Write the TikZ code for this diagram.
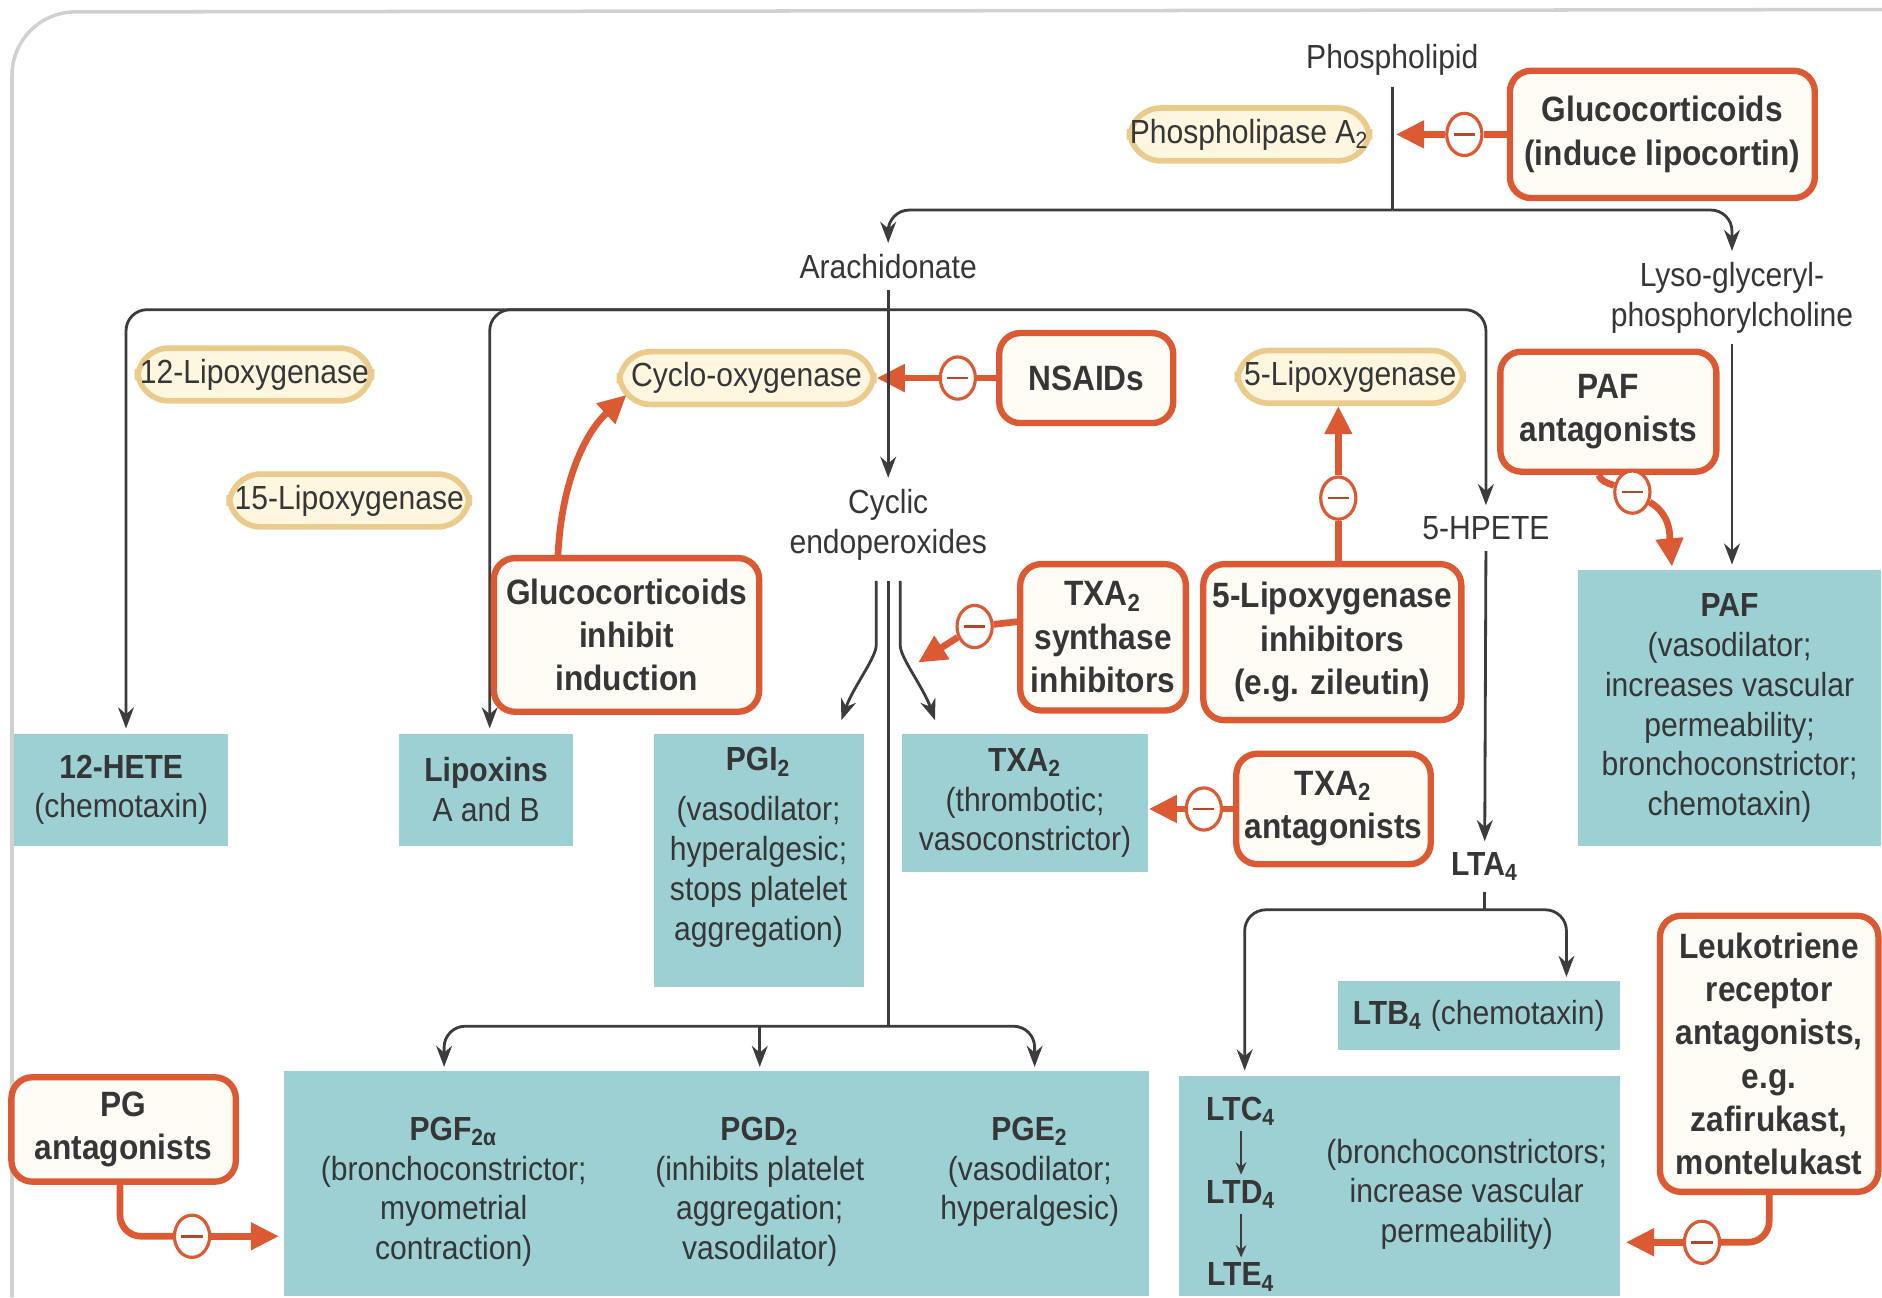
\documentclass[tikz,border=0pt]{standalone}
\usepackage{fontspec}
\setmainfont{Liberation Sans}[FakeStretch=0.9]
\usetikzlibrary{arrows.meta,shapes.geometric,calc}
\definecolor{txt}{HTML}{363636}
\definecolor{redb}{HTML}{DC5A33}
\definecolor{tealf}{HTML}{9DD0D3}
\definecolor{creamf}{HTML}{FFF6E0}
\definecolor{creamd}{HTML}{EACB8C}
\definecolor{rfill}{HTML}{FFFCF6}
\definecolor{lined}{HTML}{3C3C3C}
\tikzset{
  every node/.style={text=txt, font=\fontsize{9.5}{11.3}\selectfont, inner sep=0pt},
  sz/.style 2 args={minimum width=#1*0.012cm, minimum height=#2*0.012cm},
  enz/.style={draw=creamd, line width=1.6pt, fill=creamf, rounded corners=9pt},
  rbox/.style={draw=redb, line width=1.8pt, fill=rfill, rounded corners=6pt, align=center, font=\fontsize{10}{12.3}\selectfont\bfseries},
  tbox/.style={fill=tealf, align=center},
  lbl/.style={align=center, inner sep=3pt},
  flow/.style={draw=lined, line width=0.8pt, -{Stealth[length=6pt,width=4.5pt]}, rounded corners=6pt},
  flowl/.style={draw=lined, line width=0.8pt, rounded corners=6pt},
  small/.style={draw=lined, line width=0.6pt, -{Stealth[length=3.5pt,width=3pt]}},
  inh/.style={draw=redb, line width=1.9pt, rounded corners=6pt, -{Triangle[length=8pt,width=7.5pt]}},
  inhl/.style={draw=redb, line width=1.9pt, rounded corners=6pt},
  minus/.style={ellipse, draw=redb, line width=0.9pt, fill=white, minimum width=10pt, minimum height=12pt,
    path picture={\draw[redb!80!black,line width=0.7pt] ($(path picture bounding box.center)+(-3pt,0)$) -- ($(path picture bounding box.center)+(3pt,0)$);}},
}
\begin{document}
\begin{tikzpicture}[x=0.012cm,y=-0.012cm]
\useasboundingbox (0,0) rectangle (1568,1081);
\draw[black!18, line width=1pt, rounded corners=18pt] (10,1081) -- (10,10) -- (1568,8);

% ---------- top ----------
\node[lbl] (phl) at (1160,50) {Phospholipid};
\node[enz, sz={200}{44}] (pla2) at (1041,112) {Phospholipase A\textsubscript{2}};
\node[rbox, sz={254}{106}] (gc1) at (1385,112) {Glucocorticoids\\(induce lipocortin)};
\node[minus] (m1) at (1220,112) {};
\coordinate (j1) at (1160,175);
\coordinate (plhit) at (1163,112);
\draw[flowl] (phl.south) -- (j1);
\draw[inhl] (gc1.west) -- (m1);
\draw[inh] (m1) -- (plhit);

\node[lbl] (ara) at (740,222) {Arachidonate};
\node[lbl] (lyso) at (1443,248) {Lyso-glyceryl-\\phosphorylcholine};
\draw[flow] (j1) -| (ara.north);
\draw[flow] (j1) -| (lyso.north);

% ---------- enzymes ----------
\node[enz, sz={195}{44}] (lox12) at (212,312) {12-Lipoxygenase};
\node[enz, sz={200}{44}] (lox15) at (291,417) {15-Lipoxygenase};
\node[enz, sz={212}{44}] (cox) at (622,315) {Cyclo-oxygenase};
\node[enz, sz={188}{44}] (lox5) at (1125,314) {5-Lipoxygenase};

\node[rbox, sz={145}{75}] (nsaid) at (905,315) {NSAIDs};
\node[minus] (m2) at (798,315) {};
\draw[inhl] (nsaid.west) -- (m2);
\draw[inh] (m2) -- (cox.east);

\node[lbl] (cyc) at (740,437) {Cyclic\\endoperoxides};
\draw[flow] (ara.south) -- (cyc.north);

\node[lbl] (hpete) at (1238,440) {5-HPETE};

% ---------- product boxes ----------
\node[tbox, sz={178}{93}] (hete) at (101,658) {\textbf{12-HETE}\\(chemotaxin)};
\node[tbox, sz={145}{93}] (lipox) at (405,658) {\textbf{Lipoxins}\\A and B};
\node[tbox, sz={175}{211}] (pgi) at (632,717) {};
\node[align=center, anchor=north] (pgit) at (632,622) {\textbf{PGI\textsubscript{2}}\\[3pt](vasodilator;\\hyperalgesic;\\stops platelet\\aggregation)};
\node[tbox, sz={205}{115}] (txa) at (854,669) {\textbf{TXA\textsubscript{2}}\\(thrombotic;\\vasoconstrictor)};
\node[tbox, sz={253}{230}] (paf) at (1441,590) {\textbf{PAF}\\(vasodilator;\\increases vascular\\permeability;\\bronchoconstrictor;\\chemotaxin)};

\coordinate (j2) at (740,258);
\draw[flow] (j2) -| ($(hete.north)+(4,-4)$);
\draw[flow] (j2) -| ($(lipox.north)+(3,-4)$);
\draw[flow] (j2) -| (hpete.north);
\draw[flow] (lyso.south) -- ($(lyso.south |- paf.north)+(0,-4)$);

% ---------- inhibitors ----------
\node[rbox, sz={221}{128}] (gc2) at (522,529) {Glucocorticoids\\inhibit\\induction};
\coordinate (coxin) at (522,329);
\draw[inh] ($(gc2.north west)+(56,0)$) .. controls (468,400) and (488,360) .. (coxin);

\node[rbox, sz={138}{122}] (txs) at (919,531) {TXA\textsubscript{2}\\synthase\\inhibitors};
\node[minus] (m3) at (812,522) {};
\coordinate (txshit) at (765,552);
\draw[inhl] ($(txs.west)+(0,-13)$) -- (m3);
\draw[inh] (m3) -- (txshit);

\node[rbox, sz={215}{130}] (loxinh) at (1110,535) {5-Lipoxygenase\\inhibitors\\(e.g. zileutin)};
\node[minus] (m4) at (1115,415) {};
\draw[inhl] (m4 |- loxinh.north) -- (m4);
\draw[inh] (m4) -- (m4 |- lox5.south);

\node[rbox, sz={180}{100}] (pafant) at (1340,343) {PAF\\antagonists};
\node[minus] (m5) at (1360,410) {};
\coordinate (pafhit) at (1393,472);
\draw[inhl] ($(pafant.south)+(-8,0)$) to[out=-70,in=160] (m5);
\draw[inh] (m5) to[out=-30,in=95] (pafhit);

\node[rbox, sz={162}{92}] (txant) at (1111,674) {TXA\textsubscript{2}\\antagonists};
\node[minus] (m6) at (1003,674) {};
\draw[inhl] (txant.west) -- (m6);
\draw[inh] (m6) -- (txa.east |- m6);

% ---------- cyclic endoperoxide branches ----------
\draw[flow] ($(cyc.south)+(-10,8)$) -- (730,520) .. controls (730,548) and (711,572) .. (701,600);
\draw[flow] ($(cyc.south)+(10,8)$) -- (750,520) .. controls (750,548) and (769,572) .. (779,600);
\coordinate (j3) at (740,855);
\draw[flowl] ($(cyc.south)+(0,8)$) -- (j3);

% ---------- prostaglandins ----------
\node[tbox, sz={720}{187}] (pgbox) at (597,986) {};
\node[align=center, anchor=north] (pgf) at (378,930) {\textbf{PGF\textsubscript{2α}}\\(bronchoconstrictor;\\myometrial\\contraction)};
\node[align=center, anchor=north] (pgd) at (633,930) {\textbf{PGD\textsubscript{2}}\\(inhibits platelet\\aggregation;\\vasodilator)};
\node[align=center, anchor=north] (pge) at (858,930) {\textbf{PGE\textsubscript{2}}\\(vasodilator;\\hyperalgesic)};
\draw[flow] (j3) -| ($(pgf.north |- pgbox.north)+(-8,-3)$);
\draw[flow] (j3) -| ($(pge.north |- pgbox.north)+(4,-3)$);
\draw[flow] (pgd.north |- j3) -- ($(pgd.north |- pgbox.north)+(0,-3)$);

\node[rbox, sz={187}{87}] (pgant) at (103,941) {PG\\antagonists};
\node[minus] (m7) at (160,1030) {};
\draw[inhl] ($(pgant.south)+(-3,0)$) |- (m7);
\draw[inh] (m7) -- ($(pgbox.west |- m7)+(-4,0)$);

% ---------- leukotrienes ----------
\node[lbl, font=\fontsize{9.5}{11.3}\selectfont\bfseries] (lta4) at (1237,722) {LTA\textsubscript{4}};
\draw[flow] (hpete.south) -- (lta4.north);
\coordinate (j4) at (1237,758);
\draw[flowl] (lta4.south) -- (j4);

\node[tbox, sz={235}{57}] (ltb) at (1232,846) {\textbf{LTB\textsubscript{4}} (chemotaxin)};
\node[tbox, sz={368}{183}] (ltbox) at (1166,988) {};
\node[font=\fontsize{9.5}{11.3}\selectfont\bfseries] (ltc) at (1034,926) {LTC\textsubscript{4}};
\node[font=\fontsize{9.5}{11.3}\selectfont\bfseries] (ltd) at (1034,995) {LTD\textsubscript{4}};
\node[font=\fontsize{9.5}{11.3}\selectfont\bfseries] (lte) at (1034,1064) {LTE\textsubscript{4}};
\draw[small] ($(ltc.south)+(0,4)$) -- ($(ltd.north)+(0,-4)$);
\draw[small] ($(ltd.south)+(0,4)$) -- ($(lte.north)+(0,-4)$);
\node[align=center] (ltt) at (1222,995) {(bronchoconstrictors;\\increase vascular\\permeability)};
\draw[flow] (j4) -| ($(ltc.north |- ltbox.north)+(3,-4)$);
\draw[flow] (j4) -| ($(ltb.north east)+(-45,-3)$);

\node[rbox, sz={182}{230}] (lra) at (1474,878) {Leukotriene\\receptor\\antagonists,\\e.g.\\zafirukast,\\montelukast};
\node[minus] (m8) at (1418,1035) {};
\draw[inhl] (lra.south) |- (m8);
\draw[inh] (m8) -- ($(ltbox.east |- m8)+(4,0)$);
\end{tikzpicture}
\end{document}
